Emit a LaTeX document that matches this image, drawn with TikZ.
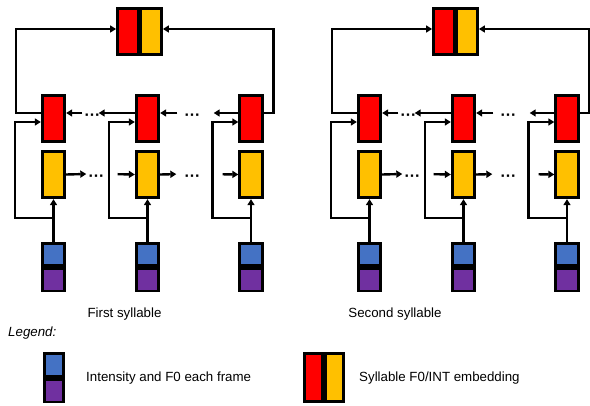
\documentclass[tikz,border=0pt]{standalone}
\usepackage{fontspec}
\setmainfont{Liberation Sans}
\usetikzlibrary{arrows.meta,positioning}
\definecolor{cred}{RGB}{255,0,0}
\definecolor{camber}{RGB}{255,192,0}
\definecolor{cblue}{RGB}{68,114,196}
\definecolor{cpurple}{RGB}{112,48,160}
\tikzset{
  cell/.style={draw,line width=2.8pt,minimum width=22.5pt,inner sep=0pt},
  tall/.style={cell,minimum height=46.5pt},
  half/.style={cell,minimum height=22.5pt},
  wire/.style={line width=2.4pt},
  link/.style={wire,-{Triangle[length=6pt,width=7pt]}},
  dots/.style={inner sep=2pt,font=\fontsize{16}{18}\selectfont\bfseries},
}

\begin{document}
\begin{tikzpicture}[x=1pt,y=-1pt,font=\fontsize{13.3}{15}\selectfont]
  \useasboundingbox (0,0) rectangle (590,406);
  \foreach \g/\gx in {1/0,2/316}{
    % syllable embedding
    \node[tall,fill=cred,minimum width=21pt] (er\g) at (\gx+128,31.5) {};
    \node[tall,fill=camber,minimum width=21pt] (ey\g) at (\gx+151,31.5) {};
    % frames
    \foreach \i/\fx in {1/53.5,2/147.5,3/251}{
      \node[tall,fill=cred] (r\g\i) at (\gx+\fx,118.5) {};
      \node[tall,fill=camber] (y\g\i) at (\gx+\fx,174.5) {};
      \node[half,fill=cblue] (b\g\i) at (\gx+\fx,254.5) {};
      \node[half,fill=cpurple,below=0pt of b\g\i] (p\g\i) {};
      \coordinate (j\g\i) at ([yshift=24pt]b\g\i.north);
      \draw[link] (b\g\i.north) -- (y\g\i.south);
      \draw[link] (j\g\i) -| ([xshift=-26pt,yshift=-3.5pt]r\g\i.west)
        -- ([yshift=-3.5pt]r\g\i.west);
    }
    \node[dots] (rd\g1) at (\gx+92.5,117) {···};
    \node[dots] (rd\g2) at (\gx+192.5,117) {···};
    \node[dots] (yd\g1) at (\gx+96.5,178) {···};
    \node[dots] (yd\g2) at (\gx+192.5,178) {···};
    % backward chain
    \draw[link] ([yshift=4pt]rd\g1.west) -- ([yshift=5.5pt]r\g1.east);
    \draw[link,shorten >=-4pt] ([yshift=5.5pt]r\g2.west) -- ([yshift=4pt]rd\g1.east);
    \draw[link,shorten <=5pt] ([yshift=4pt]rd\g2.west) -- ([yshift=5.5pt]r\g2.east);
    \draw[link,shorten >=11pt] ([yshift=5.5pt]r\g3.west) -- ([yshift=4pt]rd\g2.east);
    % forward chain
    \draw[link] (y\g1.east) -- ([yshift=4pt]yd\g1.west);
    \draw[link,shorten <=11pt] ([yshift=4pt]yd\g1.east) -- (y\g2.west);
    \draw[link,shorten >=6pt] (y\g2.east) -- ([yshift=4pt]yd\g2.west);
    \draw[link,shorten <=20pt] ([yshift=4pt]yd\g2.east) -- (y\g3.west);
    % to the embedding
    \draw[link] ([yshift=5.5pt]r\g1.west) -- ++(-25,0) |- ([yshift=2.5pt]er\g.west);
    \draw[link] ([yshift=5.5pt]r\g3.east) -- ++(10,0) |- ([yshift=2.5pt]ey\g.east);
  }
  \node[anchor=base] (s1) at (124.5,318) {First syllable};
  \node[anchor=base] (s2) at (395,318) {Second syllable};
  \node[anchor=base west] (lg) at (4.7,337) {\itshape Legend:};
  % legend
  \node[cell,fill=cblue,minimum width=19.5pt,minimum height=23.5pt] (lb) at (54,365) {};
  \node[cell,fill=cpurple,minimum width=19.5pt,minimum height=22.5pt,below=0pt of lb] (lp) {};
  \node[anchor=base west] (lt1) at (82.7,382) {Intensity and F0 each frame};
  \node[cell,fill=cred,minimum width=18.5pt,minimum height=48pt] (lr) at (313.5,377.5) {};
  \node[cell,fill=camber,minimum width=18.5pt,minimum height=48pt] (ly) at (334.5,377.5) {};
  \node[anchor=base west] (lt2) at (355.7,382) {Syllable F0/INT embedding};
\end{tikzpicture}
\end{document}
